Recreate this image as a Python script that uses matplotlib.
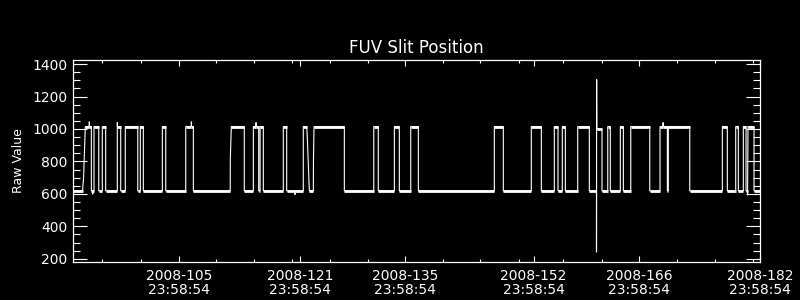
import numpy as np
import matplotlib
matplotlib.use('Agg')
import matplotlib.pyplot as plt

# x = day of year 2008, shifted so that tick "2008-DDD 23:58:54" sits at DDD
x_start, x_end = 90.91, 182.0
y_lo, y_hi = 178, 1427

# raw value trace (time in days, raw value)
t_day = [90.91, 92.21, 92.35, 92.50, 92.58, 93.11, 93.11, 93.12, 93.38, 93.38, 93.56, 93.56, 93.57,
         93.73, 93.73, 94.36, 94.36, 94.83, 94.83, 95.28, 95.28, 96.82, 96.82, 96.84, 97.27, 97.27,
         97.88, 97.88, 99.53, 99.53, 99.87, 99.87, 100.27, 100.27, 102.79, 102.79, 103.24, 103.24,
         105.89, 105.89, 106.63, 106.63, 106.65, 106.90, 106.90, 111.78, 111.80, 111.93,
         113.65, 113.65, 114.85, 114.85, 115.21, 115.21, 115.22, 115.56, 115.56, 115.74, 115.74,
         116.17, 116.17, 118.82, 118.82, 119.27, 119.27, 120.37, 120.37, 120.38,
         121.47, 121.47, 121.93, 122.00, 122.10, 122.20, 122.27, 122.80, 122.82, 122.89,
         126.91, 126.91, 130.81, 130.81, 131.41, 131.41, 133.54, 133.54, 134.20, 134.20,
         135.71, 135.71, 136.72, 136.72, 146.79, 146.79, 147.98, 147.98, 151.69, 151.69,
         153.02, 153.02, 154.74, 154.74, 155.23, 155.23, 155.80, 155.80, 156.20, 156.20,
         157.84, 157.84, 159.38, 159.38, 160.33, 160.33, 160.35, 160.37, 161.06, 161.06,
         161.82, 161.82, 162.16, 162.16, 163.49, 163.49, 163.89, 163.89, 164.87, 164.87,
         167.39, 167.39, 168.75, 168.75, 169.16, 169.16, 169.17, 169.72, 169.72, 169.85, 169.85,
         172.69, 172.69, 177.01, 177.01, 177.67, 177.67, 178.78, 178.78, 179.13, 179.13,
         179.79, 179.79, 180.15, 180.15, 180.35, 180.35, 180.41, 181.21, 181.21, 182.0]
raw = [618, 618, 700, 900, 1015, 1015, 1045, 1015, 1015, 618, 618, 597, 618,
       618, 1015, 1015, 618, 618, 1015, 1015, 618, 618, 1040, 1015, 1015, 618,
       618, 1015, 1015, 618, 618, 1015, 1015, 618, 618, 1015, 1015, 618,
       618, 1015, 1015, 1045, 1015, 1015, 618, 618, 820, 1015,
       1015, 618, 618, 1015, 1015, 1040, 1015, 1015, 618, 618, 1015,
       1015, 618, 618, 1015, 1015, 618, 618, 595, 618,
       618, 1015, 1015, 950, 820, 690, 618, 618, 820, 1015,
       1015, 618, 618, 1015, 1015, 618, 618, 1015, 1015, 618,
       618, 1015, 1015, 618, 618, 1015, 1015, 618, 618, 1015,
       1015, 618, 618, 1015, 1015, 618, 618, 1015, 1015, 618,
       618, 1015, 1015, 618, 618, 240, 1305, 1000, 1000, 618,
       618, 1015, 1015, 618, 618, 1015, 1015, 618, 618, 1015,
       1015, 618, 618, 1015, 1015, 1040, 1015, 1015, 618, 618, 1015,
       1015, 618, 618, 1015, 1015, 618, 618, 1015, 1015, 618,
       618, 1015, 1015, 618, 618, 592, 1015, 1015, 618, 618]

major_days = [105, 121, 135, 152, 166, 182]
minor_days = [94.85, 99.9, 109.95, 114.9, 119.95, 124.95, 130.0, 139.95, 144.95, 150.0,
              155.95, 161.0, 171.05, 176.1, 181.05]
tick_time = '23:58:54'

plt.rcParams['font.family'] = 'DejaVu Sans'
fig = plt.figure(figsize=(8, 3), dpi=100, facecolor='black')
ax = fig.add_axes([0.0909, 0.1257, 0.8591, 0.6753], facecolor='black')

t = np.array(t_day)
v = np.array(raw)
ax.plot(t, v, color='white', lw=0.8, solid_joinstyle='miter')
# flat parts look thicker in the original because of sample noise
flat = np.where(v[1:] == v[:-1])[0]
for i in flat:
    ax.plot([t[i], t[i + 1]], [v[i], v[i + 1]], color='white', lw=2.0, solid_capstyle='butt')

ax.set_xlim(x_start, x_end)
ax.set_ylim(y_lo, y_hi)

ax.set_xticks(major_days)
ax.set_xticklabels(['2008-%d\n%s' % (d, tick_time) for d in major_days])
ax.set_xticks(minor_days, minor=True)
ax.set_yticks(np.arange(200, 1401, 200))
ax.set_yticks(np.arange(200, 1401, 50), minor=True)

for s in ax.spines.values():
    s.set_color('white')
    s.set_linewidth(0.9)

ax.tick_params(axis='both', which='both', direction='in', colors='white', width=0.8,
               labelsize=10, top=True, right=True)
ax.tick_params(axis='y', which='major', length=10, pad=4)
ax.tick_params(axis='y', which='minor', length=5)
ax.tick_params(axis='x', which='major', length=4.5, pad=4.5)
ax.tick_params(axis='x', which='minor', length=2.5)
for lab in ax.get_xticklabels():
    lab.set_linespacing(1.05)

ax.set_title('FUV Slit Position', color='white', fontsize=12, pad=5)
ax.set_ylabel('Raw Value', color='white', fontsize=9, labelpad=5)

fig.savefig('out.png', dpi=100, facecolor='black')
